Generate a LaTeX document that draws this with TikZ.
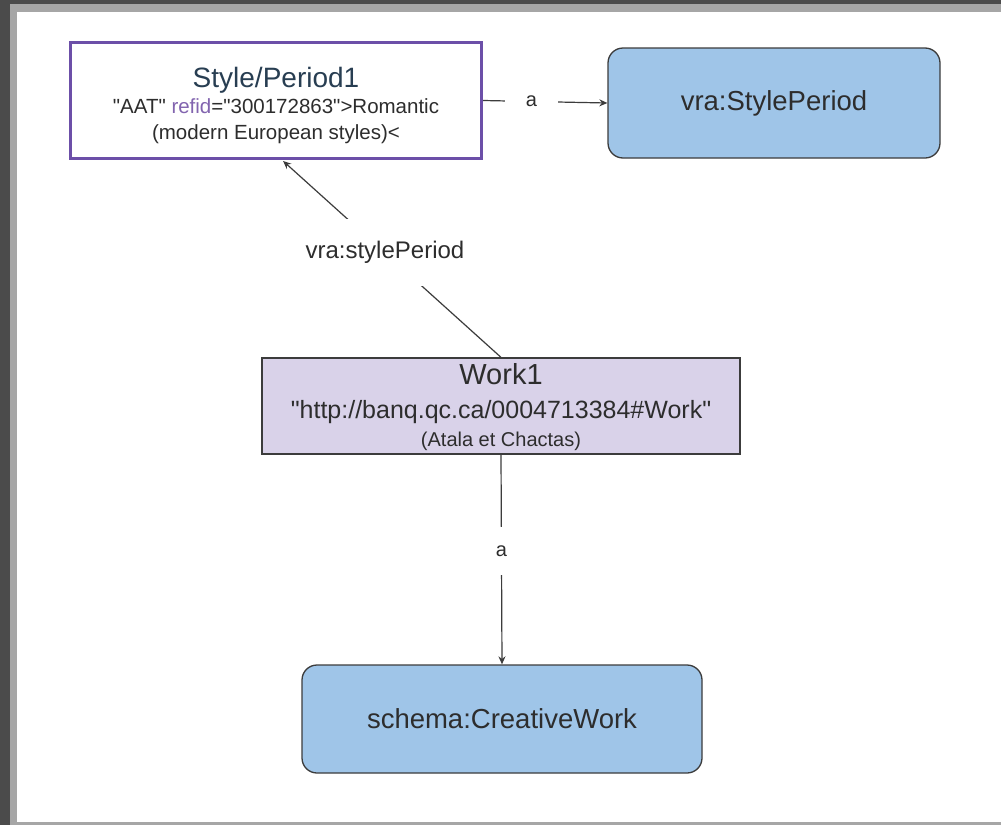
\documentclass[tikz,border=0pt]{standalone}
\usepackage{fontspec}
\setmainfont{Liberation Sans}
\usetikzlibrary{arrows.meta}
\definecolor{bgdark}{RGB}{75,75,75}
\definecolor{bglight}{RGB}{166,166,166}
\definecolor{purpleborder}{RGB}{108,79,168}
\definecolor{refidc}{RGB}{130,100,175}
\definecolor{titlec}{RGB}{40,62,82}
\definecolor{txt}{RGB}{45,45,45}
\definecolor{bluefill}{RGB}{159,197,232}
\definecolor{lilac}{RGB}{217,210,233}
\definecolor{edgec}{RGB}{60,60,60}
\newcommand{\dq}{\textquotedbl}
\tikzset{
  resbox/.style={draw=purpleborder, line width=3pt, fill=white, minimum width=411pt, minimum height=116pt, inner sep=0pt, align=center, text=txt, font=\fontsize{20.5}{26}\selectfont},
  classbox/.style={draw=edgec, line width=1.3pt, fill=bluefill, rounded corners=15pt, inner sep=0pt, text=txt, font=\fontsize{27.5}{30}\selectfont},
  workbox/.style={draw=edgec, line width=1.3pt, fill=lilac, minimum width=478pt, minimum height=96pt, inner sep=0pt, align=center, text=txt, font=\fontsize{20}{28}\selectfont},
  arr/.style={draw=edgec, line width=1.2pt, -{Stealth[length=8pt,width=7pt]}},
  lblh/.style={fill=white, text=txt, font=\fontsize{20}{22}\selectfont, inner sep=0pt, minimum width=53pt, minimum height=20pt},
  lblv/.style={fill=white, text=txt, font=\fontsize{20}{22}\selectfont, inner sep=0pt, minimum width=20pt, minimum height=48pt},
  lbld/.style={fill=white, text=txt, font=\fontsize{24}{26}\selectfont, inner sep=0pt, minimum width=163pt, minimum height=67pt}
}
\begin{document}
\begin{tikzpicture}[x=1pt, y=-1pt]
  % page background
  \fill[bgdark] (0,0) rectangle (1001,825);
  \fill[bglight] (10,4) rectangle (1001,825);
  \fill[white] (17,12) rectangle (1001,822);
  \useasboundingbox (0,0) rectangle (1001,825);

  \node[resbox] (style) at (276,100.5) {%
    \rule{0pt}{30pt}{\fontsize{28}{30}\selectfont\color{titlec}Style/Period1}\\
    \dq AAT\dq{} \textcolor{refidc}{refid}=\dq 300172863\dq>Romantic\\
    (modern European styles)<};

  \node[classbox, minimum width=332pt, minimum height=110pt] (vra) at (774,103) {vra:StylePeriod};

  \node[workbox] (work) at (501,406) {%
    \rule{0pt}{24pt}{\fontsize{29}{31}\selectfont Work1}\\[6pt]
    {\fontsize{25}{27}\selectfont \dq http://banq.qc.ca/0004713384\#Work\dq}\\
    (Atala et Chactas)};

  \node[classbox, minimum width=400pt, minimum height=108pt] (schema) at (502,719) {schema:CreativeWork};

  \draw[arr] (style.east) -- node[lblh, pos=0.39] (la) {a} (vra.west);
  \draw[arr, shorten >=1.5pt] (work.north) -- node[lbld, pos=0.53] (lsp) {vra:stylePeriod} ([xshift=6pt]style.south);
  \draw[arr] (work.south) -- node[lblv, pos=0.46] (lb) {a} (schema.north);
\end{tikzpicture}
\end{document}
